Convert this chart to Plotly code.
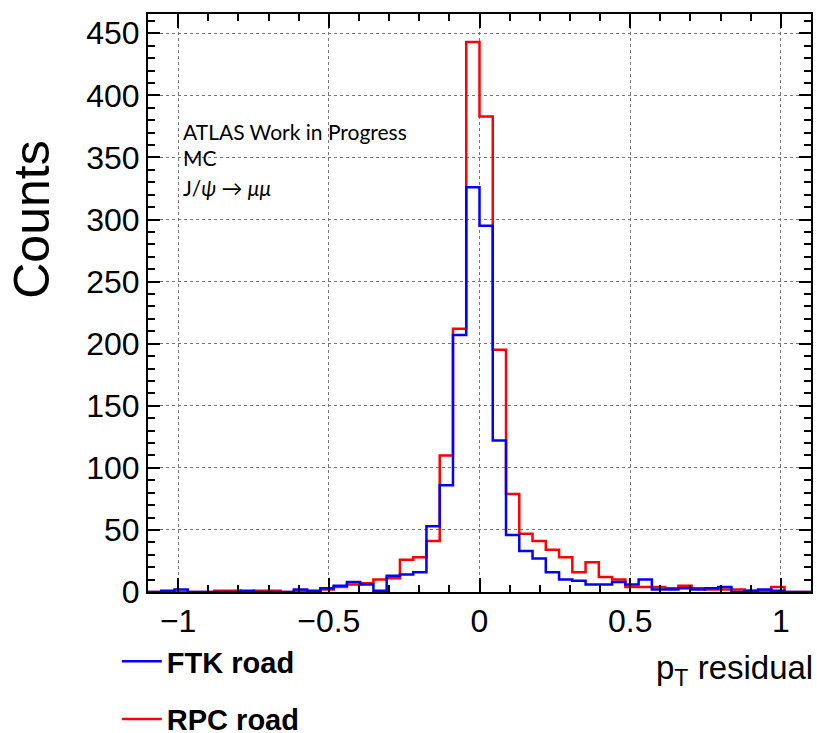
import numpy as np
import plotly.graph_objects as go

# 50 bins over [-1.1, 1.1]
n_bins = 50
x_min, x_max = -1.1, 1.1

ftk_counts = [0, 1, 2, 0, 0, 0, 0, 1, 0, 0,
              0, 2, 1, 3, 5, 8, 6, 1, 13, 14,
              16, 53, 86, 207, 326, 295, 122, 46, 33, 27,
              16, 10, 9, 6, 6, 8, 6, 10, 2, 2,
              3, 2, 3, 4, 0, 1, 2, 1, 0, 0]

rpc_counts = [0, 0, 0, 0, 0, 1, 1, 0, 1, 1,
              0, 1, 0, 2, 4, 6, 7, 10, 11, 26,
              28, 41, 110, 212, 443, 383, 195, 79, 47, 41,
              34, 28, 16, 24, 12, 10, 4, 4, 4, 3,
              5, 3, 2, 2, 2, 1, 1, 4, 0, 0]

series = [
    ("RPC road", rpc_counts, "#ff0000", 2),
    ("FTK road", ftk_counts, "#0000ff", 1),
]

edges = np.linspace(x_min, x_max, n_bins + 1)


def step_xy(counts):
    # outline of a histogram: drop to 0 at both ends
    xs = [edges[0]] + list(edges) + [edges[-1]]
    ys = [0] + list(counts) + [counts[-1], 0]
    return xs, ys


fig = go.Figure()
for name, counts, color, rank in series:
    xs, ys = step_xy(counts)
    fig.add_trace(go.Scatter(
        x=xs, y=ys, mode="lines", name=name,
        line=dict(color=color, width=2.5, shape="hv"),
        legendgroup=name, legendrank=rank,
    ))

axis_font = dict(family="Liberation Sans, Arial, sans-serif", size=32, color="black")

fig.update_xaxes(
    range=[x_min, x_max], tick0=0, dtick=0.5,
    ticks="inside", ticklen=14, tickwidth=1.5, tickcolor="black",
    minor=dict(ticks="inside", dtick=0.1, ticklen=7, tickcolor="black", showgrid=False),
    showline=True, linecolor="black", linewidth=2, mirror="allticks",
    showgrid=True, griddash="dot", gridcolor="#777", gridwidth=1,
    zeroline=False, tickfont=axis_font,
)
fig.update_yaxes(
    range=[0, 465.5], tick0=0, dtick=50,
    ticks="inside", ticklen=12, tickwidth=1.5, tickcolor="black",
    minor=dict(ticks="inside", dtick=10, ticklen=7, tickcolor="black", showgrid=False),
    showline=True, linecolor="black", linewidth=2, mirror="allticks",
    showgrid=True, griddash="dot", gridcolor="#777", gridwidth=1,
    zeroline=False, tickfont=axis_font,
)

text_font = dict(family="Lato, Open Sans, sans-serif", size=21, color="black")
fig.add_annotation(x=0.05, y=0.797, xref="paper", yref="paper", xanchor="left", yanchor="middle",
                   text="ATLAS Work in Progress", showarrow=False, font=text_font)
fig.add_annotation(x=0.05, y=0.751, xref="paper", yref="paper", xanchor="left", yanchor="middle",
                   text="MC", showarrow=False, font=text_font)
fig.add_annotation(x=0.05, y=0.699, xref="paper", yref="paper", xanchor="left", yanchor="middle",
                   text="J/<i>ψ</i> → <i>μμ</i>", showarrow=False, font=text_font)

# axis titles (ROOT style, placed at the end of the axes)
fig.add_annotation(x=-0.175, y=0.644, xref="paper", yref="paper", xanchor="center", yanchor="middle",
                   text="Counts", textangle=-90, showarrow=False,
                   font=dict(family="Liberation Sans, Arial, sans-serif", size=50, color="black"))
fig.add_annotation(x=1.006, y=-0.135, xref="paper", yref="paper", xanchor="right", yanchor="middle",
                   text="p<sub>T</sub> residual", showarrow=False,
                   font=dict(family="Liberation Sans, Arial, sans-serif", size=33, color="black"))

fig.update_layout(
    width=817, height=733,
    margin=dict(l=148, r=6, t=14, b=141, autoexpand=False),
    plot_bgcolor="white", paper_bgcolor="white",
    showlegend=True,
    legend=dict(
        x=-0.047, y=-0.076, xanchor="left", yanchor="top",
        traceorder="grouped", tracegroupgap=17, itemwidth=40,
        font=dict(family="Liberation Sans, Arial, sans-serif", size=29, color="black", weight="bold"),
        bgcolor="rgba(0,0,0,0)",
    ),
)

fig.write_html("out.html", config={"displayModeBar": False},
               post_script="document.body.style.margin='0px';")
